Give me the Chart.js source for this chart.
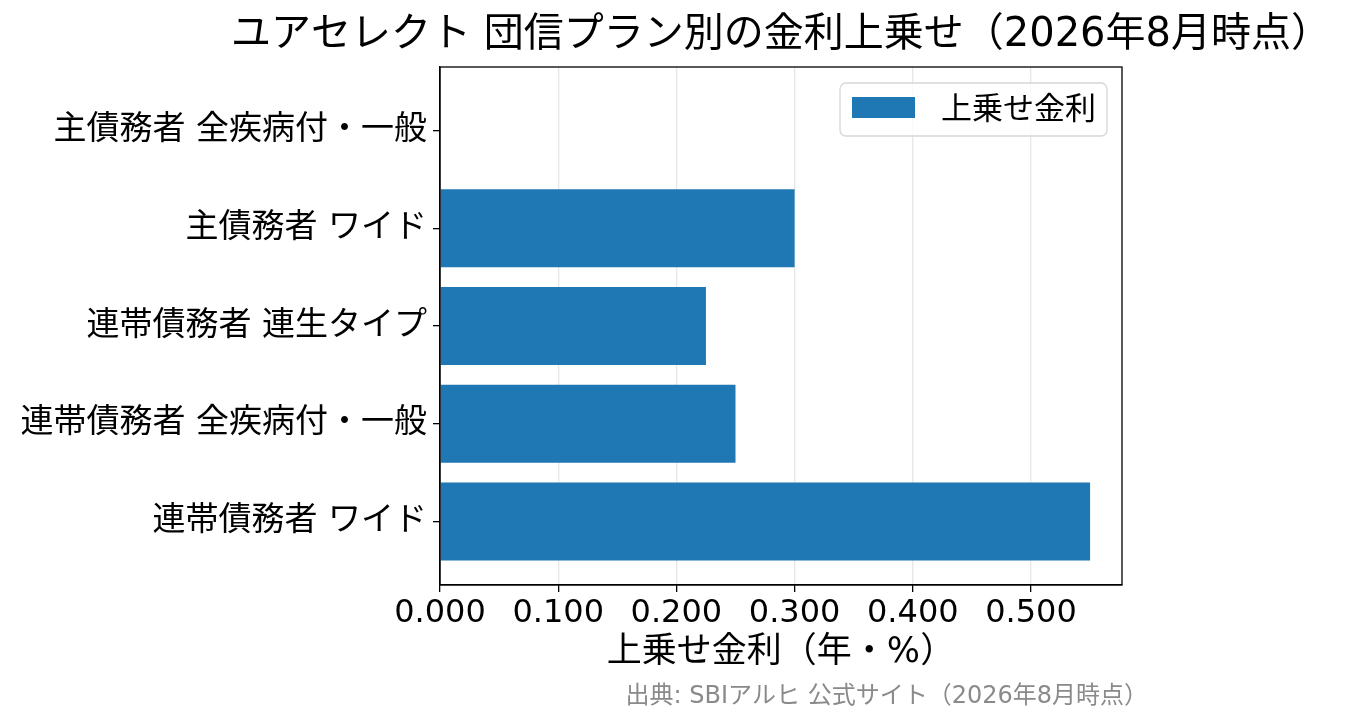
<!DOCTYPE html>
<html lang="ja">
<head>
<meta charset="utf-8">
<title>ユアセレクト 団信プラン別の金利上乗せ</title>
<script src="https://cdn.jsdelivr.net/npm/chart.js@4.4.1/dist/chart.umd.min.js"></script>
<style>
  html, body { margin: 0; padding: 0; background: #fff; }
</style>
</head>
<body>
<canvas id="barChart" width="1346" height="725"></canvas>
<script>
const categories = [
    '主債務者 全疾病付・一般',
    '主債務者 ワイド',
    '連帯債務者 連生タイプ',
    '連帯債務者 全疾病付・一般',
    '連帯債務者 ワイド'
];
const surcharge = [0, 0.3, 0.225, 0.25, 0.55];
const xTicks = [0, 0.1, 0.2, 0.3, 0.4, 0.5];

const FONT = "'DejaVu Sans', 'Noto Sans CJK JP', sans-serif";
const titleText = 'ユアセレクト 団信プラン別の金利上乗せ（2026年8月時点）';
const sourceText = '出典: SBIアルヒ 公式サイト（2026年8月時点）';
const seriesLabel = '上乗せ金利';
const barColor = '#1f77b4';

// frame, title, legend and source note (matplotlib-like)
const decorations = {
    id: 'decorations',
    afterDraw(chart) {
        const { ctx, chartArea: a } = chart;
        ctx.save();
        ctx.strokeStyle = '#000';
        ctx.lineWidth = 1.3;
        ctx.strokeRect(a.left, a.top, a.right - a.left, a.bottom - a.top);

        ctx.fillStyle = '#000';
        ctx.font = '40px ' + FONT;
        ctx.textAlign = 'center';
        ctx.textBaseline = 'middle';
        ctx.fillText(titleText, (a.left + a.right) / 2, 36);

        // legend
        const ds = chart.data.datasets[0];
        const w = 267, h = 53;
        const lx = a.right - 15 - w, ly = a.top + 16;
        ctx.beginPath();
        ctx.roundRect(lx, ly, w, h, 6);
        ctx.fillStyle = 'rgba(255,255,255,0.8)';
        ctx.fill();
        ctx.strokeStyle = '#d6d6d6';
        ctx.lineWidth = 1.3;
        ctx.stroke();
        ctx.fillStyle = ds.backgroundColor;
        ctx.fillRect(lx + 12, ly + 14, 63, 21);
        ctx.fillStyle = '#000';
        ctx.font = '31px ' + FONT;
        ctx.textAlign = 'left';
        ctx.fillText(ds.label, lx + 101, ly + h / 2 + 1);

        ctx.fillStyle = '#8a8a8a';
        ctx.font = '24px ' + FONT;
        ctx.textAlign = 'right';
        ctx.fillText(sourceText, a.right + 26, 697);
        ctx.restore();
    }
};

const ctx = document.getElementById('barChart').getContext('2d');
new Chart(ctx, {
    type: 'bar',
    data: {
        datasets: [{
            label: seriesLabel,
            data: surcharge.map((v, i) => ({ x: v, y: i })),
            backgroundColor: barColor,
            borderWidth: 0,
            categoryPercentage: 1,
            barPercentage: 0.8
        }]
    },
    options: {
        indexAxis: 'y',
        responsive: false,
        animation: false,
        devicePixelRatio: 1,
        layout: { padding: { left: 0, top: 67, right: 224, bottom: 49 } },
        plugins: {
            legend: { display: false },
            title: { display: false },
            tooltip: { enabled: false }
        },
        scales: {
            x: {
                type: 'linear',
                min: 0,
                max: 0.577,
                z: 1,
                afterBuildTicks: (s) => { s.ticks = xTicks.map(v => ({ value: v })); },
                afterFit: (s) => { s.height = 91; },
                ticks: {
                    color: '#000',
                    padding: 2,
                    font: { family: FONT, size: 32 },
                    callback: (v) => Number(v).toFixed(3)
                },
                grid: {
                    color: 'rgba(176,176,176,0.3)',
                    lineWidth: 1.3,
                    tickColor: '#000',
                    tickLength: 7
                },
                border: { color: '#000', width: 1.3 },
                title: {
                    display: true,
                    text: '上乗せ金利（年・%）',
                    color: '#000',
                    font: { family: FONT, size: 35 },
                    padding: { top: 0, bottom: 2 }
                }
            },
            y: {
                type: 'linear',
                min: -0.65,
                max: 4.65,
                reverse: true,
                offset: false,
                afterBuildTicks: (s) => { s.ticks = categories.map((_, i) => ({ value: i })); },
                afterFit: (s) => { s.width = 440; },
                ticks: {
                    color: '#000',
                    padding: 6,
                    font: { family: FONT, size: 33 },
                    callback: (v) => categories[v]
                },
                grid: {
                    offset: false,
                    drawOnChartArea: false,
                    tickColor: '#000',
                    tickLength: 7,
                    lineWidth: 1.3
                },
                border: { color: '#000', width: 1.3 }
            }
        }
    },
    plugins: [decorations]
});
</script>
</body>
</html>
